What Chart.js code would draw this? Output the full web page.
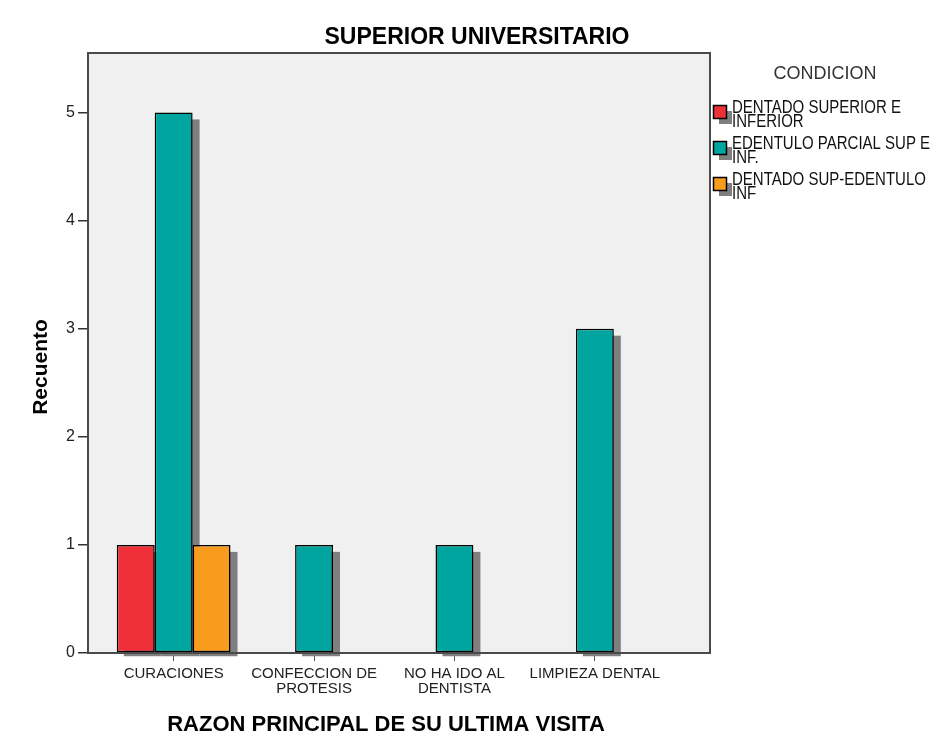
<!DOCTYPE html>
<html>
<head>
<meta charset="utf-8">
<script src="https://cdn.jsdelivr.net/npm/chart.js@4"></script>
<style>
  body { margin: 0; background: #fff; }
</style>
</head>
<body>
<canvas id="barChart" width="937" height="753"></canvas>
<script>
// data
const categories = [['CURACIONES'], ['CONFECCION DE', 'PROTESIS'], ['NO HA IDO AL', 'DENTISTA'], ['LIMPIEZA DENTAL']];
const seriesNames = [['DENTADO SUPERIOR E', 'INFERIOR'], ['EDENTULO PARCIAL SUP E', 'INF.'], ['DENTADO SUP-EDENTULO', 'INF']];
const dentadoSupInf = [1, null, null, null];
const edentuloParcial = [5, 1, 1, 3];
const dentadoSupEdentuloInf = [1, null, null, null];
const yTicks = [0, 1, 2, 3, 4, 5];

const colors = ['#ef3038', '#00a5a0', '#f99b1c'];
const FONT = 'Arial, "Liberation Sans", sans-serif';

function toPoints(values) {
    return values.map((v, i) => ({ x: i, y: v }));
}

// background, shadows, frame, titles and legend in SPSS style
const spssLook = {
    id: 'spssLook',
    beforeDraw(chart) {
        const { ctx, chartArea: a } = chart;
        ctx.save();
        ctx.fillStyle = '#f0f0f0';
        ctx.fillRect(a.left, a.top, a.right - a.left, a.bottom - a.top);
        ctx.restore();
    },
    beforeDatasetsDraw(chart) {
        const ctx = chart.ctx;
        ctx.save();
        ctx.fillStyle = '#7f7f7f';
        chart.data.datasets.forEach((ds, i) => {
            chart.getDatasetMeta(i).data.forEach((bar, j) => {
                if (ds.data[j].y == null) return;
                ctx.fillRect(bar.x - bar.width / 2 + 7, bar.y + 7, bar.width, bar.base - bar.y - 3);
            });
        });
        ctx.restore();
    },
    afterDatasetsDraw(chart) {
        const { ctx, chartArea: a } = chart;
        ctx.save();
        ctx.strokeStyle = '#4a4a4a';
        ctx.lineWidth = 2;
        ctx.strokeRect(a.left, a.top, a.right - a.left, a.bottom - a.top);

        ctx.fillStyle = '#000';
        ctx.textAlign = 'center';
        ctx.textBaseline = 'middle';
        ctx.font = 'bold 23px ' + FONT;
        ctx.fillText('SUPERIOR UNIVERSITARIO', 477, 38);
        ctx.font = 'bold 22px ' + FONT;
        ctx.fillText('RAZON PRINCIPAL DE SU ULTIMA VISITA', 386, 725);
        ctx.save();
        ctx.translate(41, 367);
        ctx.rotate(-Math.PI / 2);
        ctx.font = 'bold 21px ' + FONT;
        ctx.fillText('Recuento', 0, 0);
        ctx.restore();

        // legend
        ctx.fillStyle = '#333';
        ctx.font = '18px ' + FONT;
        ctx.fillText('CONDICION', 825, 74);
        ctx.textAlign = 'left';
        ctx.font = '15px ' + FONT;
        seriesNames.forEach((lines, i) => {
            const y = 105 + i * 36;
            ctx.fillStyle = '#7f7f7f';
            ctx.fillRect(719, y + 6, 13, 13);
            ctx.fillStyle = colors[i];
            ctx.fillRect(713, y, 13, 13);
            ctx.strokeStyle = '#000';
            ctx.lineWidth = 1.5;
            ctx.strokeRect(713.5, y + 0.5, 13, 13);
            ctx.fillStyle = '#111';
            lines.forEach((t, k) => {
                ctx.save();
                ctx.translate(732, y + 3 + k * 14);
                ctx.scale(1, 1.2);
                ctx.fillText(t, 0, 0);
                ctx.restore();
            });
        });
        ctx.restore();
    }
};

const ctx = document.getElementById('barChart').getContext('2d');
new Chart(ctx, {
    type: 'bar',
    data: {
        datasets: [
            { label: seriesNames[0].join(' '), data: toPoints(dentadoSupInf), backgroundColor: colors[0] },
            { label: seriesNames[1].join(' '), data: toPoints(edentuloParcial), backgroundColor: colors[1] },
            { label: seriesNames[2].join(' '), data: toPoints(dentadoSupEdentuloInf), backgroundColor: colors[2] }
        ]
    },
    options: {
        responsive: false,
        animation: false,
        layout: { padding: { top: 53, right: 227, left: 0, bottom: 0 } },
        datasets: {
            bar: {
                borderColor: '#000',
                borderWidth: 1.5,
                borderSkipped: false,
                categoryPercentage: 0.81,
                barPercentage: 1
            }
        },
        plugins: {
            legend: { display: false },
            tooltip: { enabled: false }
        },
        scales: {
            x: {
                type: 'linear',
                offset: false,
                min: -0.61,
                max: 3.82,
                afterFit: (scale) => { scale.height = 100; },
                afterBuildTicks: (scale) => { scale.ticks = categories.map((c, i) => ({ value: i })); },
                border: { display: false },
                grid: { offset: false, drawOnChartArea: false, tickLength: 8, color: '#555' },
                ticks: {
                    autoSkip: false,
                    maxRotation: 0,
                    padding: 6,
                    color: '#222',
                    font: { family: FONT, size: 15, lineHeight: 0.95 },
                    callback: (v) => categories[v]
                }
            },
            y: {
                min: 0,
                max: 5.55,
                afterFit: (scale) => { scale.width = 88; },
                afterBuildTicks: (scale) => { scale.ticks = yTicks.map(v => ({ value: v })); },
                border: { display: false },
                grid: { drawOnChartArea: false, tickLength: 10, color: '#333', lineWidth: 1.5 },
                ticks: {
                    padding: 3,
                    color: '#222',
                    font: { family: FONT, size: 16 }
                }
            }
        }
    },
    plugins: [spssLook]
});
</script>
</body>
</html>
